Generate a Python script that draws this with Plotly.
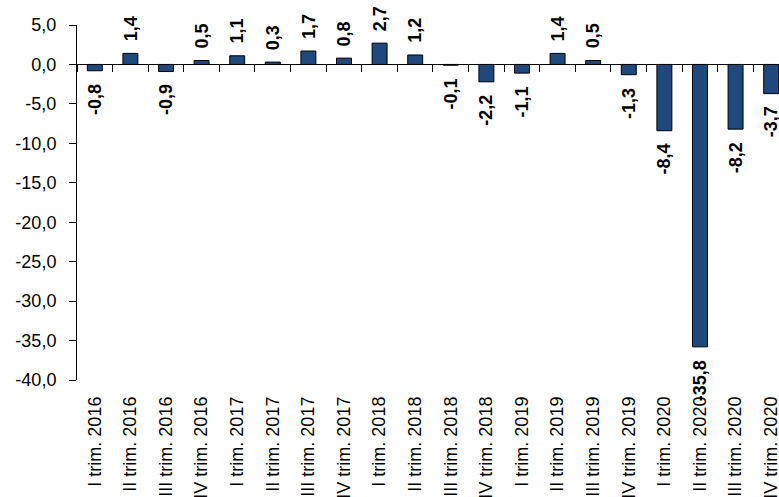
import plotly.graph_objects as go

categories = [
    "I trim. 2016", "II trim. 2016", "III trim. 2016", "IV trim. 2016",
    "I trim. 2017", "II trim. 2017", "III trim. 2017", "IV trim. 2017",
    "I trim. 2018", "II trim. 2018", "III trim. 2018", "IV trim. 2018",
    "I trim. 2019", "II trim. 2019", "III trim. 2019", "IV trim. 2019",
    "I trim. 2020", "II trim. 2020", "III trim. 2020", "IV trim. 2020",
]
values = [-0.8, 1.4, -0.9, 0.5, 1.1, 0.3, 1.7, 0.8, 2.7, 1.2,
          -0.1, -2.2, -1.1, 1.4, 0.5, -1.3, -8.4, -35.8, -8.2, -3.7]
y_ticks = [5, 0, -5, -10, -15, -20, -25, -30, -35, -40]

FONT = "Arial, Liberation Sans, sans-serif"
BAR_COLOR = "#1F497D"


def fmt(v):
    return f"{v:.1f}".replace(".", ",")


fig = go.Figure()
fig.add_trace(go.Bar(
    x=categories, y=values, width=0.42,
    marker=dict(color=BAR_COLOR, line=dict(color="black", width=1)),
    hoverinfo="skip", showlegend=False,
))
# invisible trace to carry the bottom tick-label axis
fig.add_trace(go.Scatter(
    x=categories, y=values, xaxis="x2", mode="markers",
    marker=dict(opacity=0), hoverinfo="skip", showlegend=False,
))

for c, v in zip(categories, values):
    fig.add_annotation(
        x=c, y=v, text=f"<b>{fmt(v)}</b>", showarrow=False, textangle=-90,
        yanchor="bottom" if v >= 0 else "top",
        yshift=10 if v >= 0 else -11,
        font=dict(family=FONT, size=18, color="black"),
    )

xrange = [-0.5, 19.22]
fig.update_layout(
    width=779, height=497,
    margin=dict(l=77, r=0, t=24.5, b=117, pad=0),
    paper_bgcolor="white", plot_bgcolor="white",
    font=dict(family=FONT, size=18, color="black"),
    xaxis=dict(
        type="category", categoryorder="array", categoryarray=categories,
        range=xrange, anchor="free", position=40 / 45,
        showline=True, linecolor="black", linewidth=1,
        ticks="outside", tickson="boundaries", ticklen=7, tickcolor="black",
        showticklabels=False, showgrid=False, zeroline=False, automargin=False,
    ),
    xaxis2=dict(
        type="category", categoryorder="array", categoryarray=categories,
        range=xrange, overlaying="x", anchor="y", side="bottom",
        showline=False, ticks="", showticklabels=True, tickangle=-90,
        ticklabelstandoff=12, showgrid=False, zeroline=False, automargin=False,
        tickfont=dict(family=FONT, size=18, color="black"),
    ),
    yaxis=dict(
        range=[-40, 5], tickvals=y_ticks, ticktext=[fmt(t) for t in y_ticks],
        showline=True, linecolor="black", linewidth=1,
        ticks="outside", ticklen=7, tickcolor="black",
        ticklabelstandoff=9,
        showgrid=False, zeroline=False, automargin=False,
        tickfont=dict(family=FONT, size=18, color="black"),
    ),
)

fig.write_html("out.html")
